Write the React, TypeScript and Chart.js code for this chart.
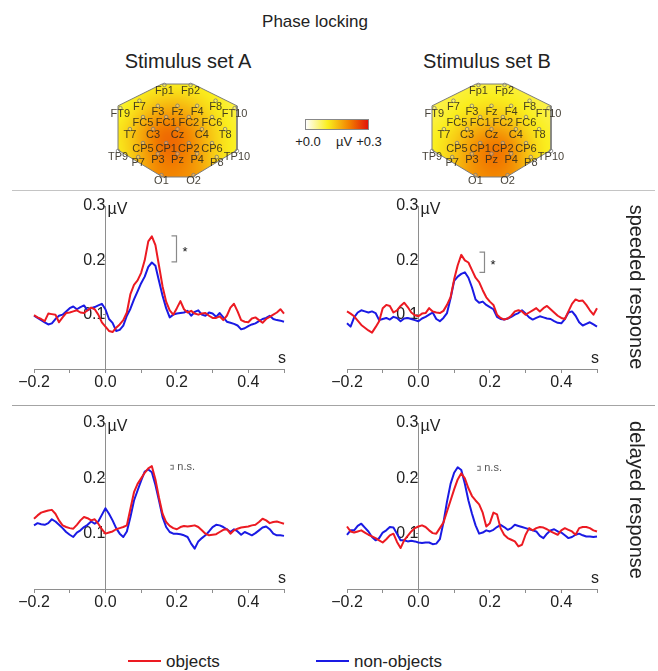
import React, { useEffect, useRef } from 'react';
import { Chart, registerables } from 'chart.js';
Chart.register(...registerables);

// ---------- time axis (s) ----------
const TIME = [-0.2,-0.19,-0.18,-0.17,-0.16,-0.15,-0.14,-0.13,-0.12,-0.11,-0.1,-0.09,-0.08,-0.07,-0.06,-0.05,-0.04,-0.03,-0.02,-0.01,0,0.01,0.02,0.03,0.04,0.05,0.06,0.07,0.08,0.09,0.1,0.11,0.12,0.13,0.14,0.15,0.16,0.17,0.18,0.19,0.2,0.21,0.22,0.23,0.24,0.25,0.26,0.27,0.28,0.29,0.3,0.31,0.32,0.33,0.34,0.35,0.36,0.37,0.38,0.39,0.4,0.41,0.42,0.43,0.44,0.45,0.46,0.47,0.48,0.49,0.5];

// ---------- series (µV) ----------
const SPEEDED_A_OBJECTS = [
  0.099,0.095,0.092,0.088,0.102,0.101,0.100,0.086,0.095,0.103,
  0.104,0.106,0.108,0.104,0.103,0.108,0.113,0.110,0.100,0.086,
  0.078,0.070,0.068,0.076,0.082,0.090,0.104,0.138,0.155,0.163,
  0.177,0.200,0.235,0.244,0.228,0.190,0.152,0.124,0.108,0.100,
  0.112,0.125,0.110,0.104,0.107,0.102,0.100,0.102,0.103,0.098,
  0.094,0.094,0.097,0.090,0.098,0.113,0.120,0.106,0.090,0.087,
  0.086,0.093,0.095,0.090,0.085,0.092,0.096,0.100,0.104,0.110,
  0.102];
const SPEEDED_A_NONOBJECTS = [
  0.098,0.094,0.090,0.086,0.082,0.084,0.092,0.098,0.100,0.106,
  0.112,0.115,0.110,0.114,0.117,0.108,0.112,0.114,0.117,0.120,
  0.110,0.092,0.085,0.070,0.072,0.080,0.098,0.111,0.128,0.143,
  0.158,0.170,0.188,0.196,0.190,0.162,0.135,0.112,0.095,0.100,
  0.102,0.103,0.104,0.107,0.098,0.105,0.108,0.100,0.098,0.104,
  0.102,0.096,0.103,0.095,0.087,0.085,0.083,0.080,0.073,0.075,
  0.079,0.082,0.084,0.088,0.092,0.094,0.098,0.092,0.090,0.089,
  0.087];
const SPEEDED_B_OBJECTS = [
  0.106,0.102,0.097,0.089,0.081,0.076,0.071,0.067,0.077,0.088,
  0.112,0.118,0.116,0.104,0.108,0.116,0.122,0.114,0.104,0.099,
  0.097,0.102,0.103,0.112,0.106,0.104,0.103,0.107,0.118,0.132,
  0.165,0.191,0.210,0.200,0.196,0.182,0.168,0.160,0.145,0.132,
  0.124,0.118,0.100,0.094,0.091,0.093,0.098,0.106,0.108,0.106,
  0.100,0.104,0.108,0.112,0.106,0.112,0.116,0.110,0.104,0.098,
  0.094,0.092,0.106,0.120,0.128,0.125,0.126,0.118,0.108,0.100,
  0.112];
const SPEEDED_B_NONOBJECTS = [
  0.084,0.078,0.095,0.104,0.108,0.106,0.104,0.106,0.103,0.090,
  0.092,0.094,0.091,0.096,0.094,0.088,0.093,0.094,0.092,0.090,
  0.088,0.093,0.096,0.100,0.104,0.092,0.088,0.094,0.103,0.130,
  0.162,0.170,0.175,0.178,0.168,0.150,0.128,0.122,0.124,0.118,
  0.114,0.110,0.096,0.092,0.091,0.093,0.096,0.100,0.103,0.108,
  0.102,0.095,0.091,0.094,0.097,0.095,0.093,0.092,0.088,0.085,
  0.084,0.092,0.104,0.106,0.098,0.086,0.080,0.083,0.086,0.082,
  0.078];
const DELAYED_A_OBJECTS = [
  0.127,0.133,0.138,0.140,0.142,0.143,0.136,0.124,0.115,0.112,
  0.110,0.109,0.116,0.124,0.130,0.128,0.124,0.126,0.118,0.108,
  0.100,0.102,0.104,0.108,0.110,0.112,0.115,0.145,0.175,0.190,
  0.200,0.210,0.218,0.222,0.198,0.165,0.136,0.121,0.114,0.110,
  0.108,0.112,0.114,0.113,0.114,0.115,0.112,0.106,0.100,0.097,
  0.098,0.099,0.103,0.107,0.108,0.100,0.106,0.109,0.111,0.112,
  0.113,0.115,0.116,0.121,0.127,0.124,0.119,0.121,0.122,0.120,
  0.118];
const DELAYED_A_NONOBJECTS = [
  0.115,0.119,0.117,0.116,0.119,0.126,0.122,0.116,0.110,0.103,
  0.098,0.094,0.102,0.106,0.112,0.116,0.122,0.118,0.122,0.134,
  0.146,0.136,0.124,0.110,0.100,0.094,0.104,0.130,0.160,0.178,
  0.196,0.212,0.216,0.211,0.188,0.160,0.130,0.112,0.103,0.100,
  0.100,0.099,0.097,0.094,0.082,0.073,0.086,0.092,0.097,0.104,
  0.112,0.116,0.115,0.112,0.108,0.103,0.108,0.104,0.098,0.103,
  0.100,0.097,0.101,0.106,0.111,0.113,0.108,0.100,0.097,0.097,
  0.096];
const DELAYED_B_OBJECTS = [
  0.113,0.104,0.102,0.104,0.106,0.102,0.098,0.095,0.092,0.088,
  0.084,0.090,0.097,0.100,0.085,0.074,0.088,0.096,0.104,0.110,
  0.113,0.115,0.112,0.106,0.101,0.100,0.110,0.120,0.140,0.160,
  0.180,0.198,0.209,0.200,0.182,0.168,0.160,0.153,0.138,0.113,
  0.119,0.138,0.135,0.110,0.098,0.092,0.089,0.086,0.077,0.080,
  0.098,0.110,0.106,0.110,0.112,0.111,0.108,0.104,0.101,0.098,
  0.106,0.110,0.107,0.104,0.098,0.110,0.112,0.112,0.110,0.106,
  0.104];
const DELAYED_B_NONOBJECTS = [
  0.098,0.106,0.106,0.114,0.118,0.111,0.104,0.094,0.088,0.092,
  0.102,0.106,0.112,0.111,0.100,0.088,0.088,0.086,0.087,0.086,
  0.084,0.083,0.084,0.084,0.081,0.082,0.090,0.120,0.158,0.190,
  0.210,0.220,0.215,0.190,0.160,0.136,0.115,0.100,0.102,0.106,
  0.104,0.107,0.112,0.116,0.112,0.107,0.110,0.116,0.114,0.112,
  0.110,0.108,0.106,0.104,0.096,0.092,0.100,0.106,0.108,0.104,
  0.102,0.097,0.092,0.094,0.098,0.100,0.097,0.095,0.095,0.094,
  0.095];

// ---------- ticks ----------
const X_TICK_VALUES = [-0.2, 0, 0.2, 0.4];
const X_TICK_LABELS = ['\u22120.2', '0.0', '0.2', '0.4'];
const Y_TICK_VALUES = [0.1, 0.2, 0.3];
const Y_TICK_LABELS = ['0.1', '0.2', '0.3'];

// ---------- significance marks [t, upper, lower] ----------
const SIG_SPEEDED_A = [0.199, 0.245, 0.197];
const SIG_SPEEDED_B = [0.185, 0.215, 0.178];
const NS_DELAYED_A = [0.19, 0.2235, 0.2165];
const NS_DELAYED_B = [0.173, 0.2215, 0.2145];

// ---------- topography ----------
const ELECTRODES = ['Fp1','Fp2','F7','F3','Fz','F4','F8','FT9','FC5','FC1','FC2','FC6','FT10','T7','C3','Cz','C4','T8','CP5','CP1','CP2','CP6','TP9','P7','P3','Pz','P4','P8','TP10','O1','O2'];
const ELECTRODE_X = [-0.22,0.22,-0.64,-0.33,0,0.33,0.64,-0.96,-0.58,-0.19,0.19,0.58,0.96,-0.8,-0.41,0,0.41,0.8,-0.58,-0.19,0.19,0.58,-1.0,-0.66,-0.33,0,0.33,0.66,1.0,-0.27,0.27];
const ELECTRODE_Y = [0.98,0.98,0.64,0.53,0.53,0.53,0.64,0.48,0.29,0.29,0.29,0.29,0.48,0.03,0.03,0.03,0.03,0.03,-0.27,-0.27,-0.27,-0.27,-0.44,-0.57,-0.5,-0.5,-0.5,-0.57,-0.44,-0.96,-0.96];
const TOPO_A_VALUES = [0.09,0.09,0.09,0.13,0.14,0.12,0.09,0.08,0.15,0.22,0.19,0.12,0.08,0.11,0.26,0.25,0.18,0.09,0.17,0.26,0.22,0.13,0.09,0.13,0.22,0.22,0.18,0.11,0.09,0.20,0.19];
const TOPO_B_VALUES = [0.085,0.085,0.085,0.10,0.11,0.10,0.085,0.08,0.10,0.13,0.14,0.10,0.08,0.09,0.17,0.20,0.16,0.09,0.15,0.22,0.25,0.14,0.09,0.12,0.20,0.24,0.22,0.11,0.09,0.19,0.19];
const OUTLINE_X = [-0.26,0.26,1,1,0.25,-0.25,-1,-1,-0.26];
const OUTLINE_Y = [1,1,0.53,-0.42,-1,-1,-0.42,0.53,1];

// ---------- colour scale (µV) ----------
const CMAP_MAX = 0.3;
const CMAP_STOPS = [0, 0.35, 0.7, 1];
const CMAP_COLORS = [[255,255,255],[250,238,30],[242,128,0],[225,20,10]];

const RED = 'rgb(236,26,34)';
const BLUE = 'rgb(26,26,228)';
const AXIS_COLOR = '#8e8e8e';
const TEXT_COLOR = '#222';
const FONT = '"Liberation Sans", Arial, Helvetica, sans-serif';
Chart.defaults.font.family = FONT;

function colorFor(v: number) {
  const t = Math.max(0, Math.min(1, v / CMAP_MAX));
  for (let i = 1; i < CMAP_STOPS.length; i++) {
    if (t <= CMAP_STOPS[i]) {
      const f = (t - CMAP_STOPS[i - 1]) / (CMAP_STOPS[i] - CMAP_STOPS[i - 1]);
      const a = CMAP_COLORS[i - 1], b = CMAP_COLORS[i];
      return [0, 1, 2].map(k => Math.round(a[k] + (b[k] - a[k]) * f));
    }
  }
  return CMAP_COLORS[CMAP_COLORS.length - 1];
}

function labelFor(v: number, values: number[], labels: string[]) {
  const i = values.findIndex(u => Math.abs(u - v) < 1e-6);
  return i >= 0 ? labels[i] : '';
}

const panelOverlay = {
  id: 'panelOverlay',
  afterDraw(chart: any, _args: any, opts: any) {
    const { ctx } = chart;
    const x = chart.scales.x, y = chart.scales.y;
    ctx.save();
    ctx.fillStyle = TEXT_COLOR;
    ctx.font = `16px ${FONT}`;
    ctx.textAlign = 'left';
    ctx.textBaseline = 'middle';
    ctx.fillText('\u00b5V', x.getPixelForValue(0) + 2, y.getPixelForValue(0.3) + 4);
    ctx.textAlign = 'center';
    ctx.textBaseline = 'bottom';
    ctx.fillText('s', x.getPixelForValue(0.5) - 2, y.getPixelForValue(0) - 2);
    const m = opts.mark;
    if (m) {
      const bx = x.getPixelForValue(m[0]);
      const y1 = y.getPixelForValue(m[1]);
      const y2 = y.getPixelForValue(m[2]);
      ctx.strokeStyle = '#8a8a8a';
      ctx.lineWidth = 1.2;
      ctx.beginPath();
      ctx.moveTo(bx - opts.arm, y1);
      ctx.lineTo(bx, y1);
      ctx.lineTo(bx, y2);
      ctx.lineTo(bx - opts.arm, y2);
      ctx.stroke();
      ctx.fillStyle = opts.textColor;
      ctx.font = `${opts.fontSize}px ${FONT}`;
      ctx.textAlign = 'left';
      ctx.textBaseline = 'middle';
      ctx.fillText(opts.text, bx + opts.gap, (y1 + y2) / 2 + opts.dy);
    }
    ctx.restore();
  },
};

function Panel(props: any) {
  const ref = useRef<HTMLCanvasElement | null>(null);
  useEffect(() => {
    const mk = (arr: number[]) => TIME.map((t, i) => ({ x: t, y: arr[i] }));
    const chart = new Chart(ref.current as HTMLCanvasElement, {
      type: 'line',
      data: {
        datasets: [
          { label: 'objects', data: mk(props.objects), borderColor: RED, borderWidth: 2, pointRadius: 0, tension: 0, clip: false, borderJoinStyle: 'round' },
          { label: 'non-objects', data: mk(props.nonObjects), borderColor: BLUE, borderWidth: 2, pointRadius: 0, tension: 0, clip: false, borderJoinStyle: 'round' },
        ],
      } as any,
      options: {
        animation: false,
        responsive: true,
        maintainAspectRatio: false,
        layout: { padding: props.pad },
        plugins: {
          legend: { display: false },
          tooltip: { enabled: false },
          panelOverlay: props.overlay,
        } as any,
        scales: {
          x: {
            type: 'linear', min: -0.2, max: 0.5, position: { y: 0 } as any,
            ticks: { stepSize: 0.1, autoSkip: false, maxRotation: 0, color: TEXT_COLOR, font: { size: 16 }, padding: 1,
              callback: (v: any) => labelFor(Number(v), X_TICK_VALUES, X_TICK_LABELS) },
            grid: { drawOnChartArea: false, drawTicks: true, tickLength: 3, color: AXIS_COLOR },
            border: { color: AXIS_COLOR, width: 1 },
          },
          y: {
            type: 'linear', min: 0, max: 0.3, position: { x: 0 } as any,
            ticks: { stepSize: 0.1, autoSkip: false, color: TEXT_COLOR, font: { size: 16 }, padding: 1,
              callback: (v: any) => labelFor(Number(v), Y_TICK_VALUES, Y_TICK_LABELS) },
            grid: { drawOnChartArea: false, drawTicks: true, tickLength: 2, color: AXIS_COLOR },
            border: { color: AXIS_COLOR, width: 1 },
          },
        } as any,
      },
      plugins: [panelOverlay],
    });
    return () => chart.destroy();
  }, []);
  return (
    <div style={{ position: 'absolute', left: props.left, top: props.top, width: props.width, height: props.height }}>
      <canvas ref={ref} />
    </div>
  );
}

const topoPlugin = {
  id: 'topoPlugin',
  beforeDatasetsDraw(chart: any, _args: any, opts: any) {
    const { ctx, chartArea } = chart;
    const x = chart.scales.x, y = chart.scales.y;
    const values: number[] = opts.values;
    const px = ELECTRODE_X.map(v => x.getPixelForValue(v));
    const py = ELECTRODE_Y.map(v => y.getPixelForValue(v));
    const x0 = Math.floor(chartArea.left) - 2, y0 = Math.floor(chartArea.top) - 2;
    const w = Math.ceil(chartArea.width) + 5, h = Math.ceil(chartArea.height) + 5;
    const off = document.createElement('canvas');
    off.width = w; off.height = h;
    const octx = off.getContext('2d') as CanvasRenderingContext2D;
    const img = octx.createImageData(w, h);
    const s2 = 2 * opts.sigma * opts.sigma;
    for (let j = 0; j < h; j++) {
      for (let i = 0; i < w; i++) {
        let sw = 0, sv = 0;
        for (let k = 0; k < values.length; k++) {
          const dx = x0 + i - px[k], dy = y0 + j - py[k];
          const wt = Math.exp(-(dx * dx + dy * dy) / s2);
          sw += wt; sv += wt * values[k];
        }
        const c = colorFor(sv / sw);
        const o = (j * w + i) * 4;
        img.data[o] = c[0]; img.data[o + 1] = c[1]; img.data[o + 2] = c[2]; img.data[o + 3] = 255;
      }
    }
    octx.putImageData(img, 0, 0);
    ctx.save();
    ctx.beginPath();
    OUTLINE_X.forEach((vx, i) => {
      const X = x.getPixelForValue(vx), Y = y.getPixelForValue(OUTLINE_Y[i]);
      if (i === 0) ctx.moveTo(X, Y); else ctx.lineTo(X, Y);
    });
    ctx.closePath();
    ctx.clip();
    ctx.drawImage(off, x0, y0);
    ctx.restore();
  },
  afterDatasetsDraw(chart: any) {
    const { ctx } = chart;
    const x = chart.scales.x, y = chart.scales.y;
    ctx.save();
    ctx.fillStyle = 'rgba(45,40,30,0.88)';
    ctx.font = `11px ${FONT}`;
    ctx.textAlign = 'center';
    ctx.textBaseline = 'middle';
    ELECTRODES.forEach((name, i) => {
      ctx.fillText(name, x.getPixelForValue(ELECTRODE_X[i]), y.getPixelForValue(ELECTRODE_Y[i]) + 6);
    });
    ctx.restore();
  },
};

function Topo(props: any) {
  const ref = useRef<HTMLCanvasElement | null>(null);
  useEffect(() => {
    const chart = new Chart(ref.current as HTMLCanvasElement, {
      type: 'scatter',
      data: {
        datasets: [
          { data: OUTLINE_X.map((v, i) => ({ x: v, y: OUTLINE_Y[i] })), showLine: true, borderColor: '#7c7c7c', borderWidth: 1, pointRadius: 0, clip: false, fill: false },
          { data: ELECTRODE_X.map((v, i) => ({ x: v, y: ELECTRODE_Y[i] })), pointRadius: 1.8, pointBackgroundColor: 'rgba(255,255,255,0.25)', pointBorderColor: '#7a7a7a', pointBorderWidth: 0.8, clip: false },
        ],
      } as any,
      options: {
        animation: false,
        responsive: true,
        maintainAspectRatio: false,
        layout: { padding: props.pad },
        plugins: { legend: { display: false }, tooltip: { enabled: false }, topoPlugin: { values: props.values, sigma: 14 } } as any,
        scales: {
          x: { type: 'linear', min: -1, max: 1, display: false },
          y: { type: 'linear', min: -1, max: 1, display: false },
        },
      },
      plugins: [topoPlugin],
    });
    return () => chart.destroy();
  }, []);
  return (
    <div style={{ position: 'absolute', left: props.left, top: props.top, width: props.width, height: props.height }}>
      <canvas ref={ref} />
    </div>
  );
}

function Text(props: any) {
  return (
    <div style={{ position: 'absolute', left: props.x, top: props.y, transform: `translate(-50%, -50%)${props.rotate ? ' rotate(90deg)' : ''}`,
      fontSize: props.size, color: props.color || TEXT_COLOR, whiteSpace: 'nowrap', lineHeight: 1 }}>
      {props.children}
    </div>
  );
}

export default function App() {
  const gradient = `linear-gradient(to right, ${CMAP_STOPS.map((s, i) => `rgb(${CMAP_COLORS[i].join(',')}) ${s * 100}%`).join(', ')})`;
  const starOverlay = (mark: number[]) => ({ mark, arm: 5, gap: 6, text: '*', fontSize: 13, textColor: '#111', dy: 3 });
  const nsOverlay = (mark: number[]) => ({ mark, arm: 3, gap: 4, text: 'n.s.', fontSize: 11, textColor: '#555', dy: 0 });
  const padTop = { left: 34, right: 38, top: 14, bottom: 33 };
  const padBottom = { left: 34, right: 38, top: 16, bottom: 28 };
  return (
    <div style={{ position: 'fixed', left: 0, top: 0, width: 658, height: 671, background: '#fff', fontFamily: FONT, overflow: 'hidden' }}>
      <Text x={315} y={21} size={17}>Phase locking</Text>
      <Text x={188} y={61} size={20}>Stimulus set A</Text>
      <Text x={487} y={61} size={20}>Stimulus set B</Text>

      <Topo left={95} top={72} width={165} height={120} pad={{ left: 23, right: 23, top: 12, bottom: 15 }} values={TOPO_A_VALUES} />
      <Topo left={409} top={72} width={165} height={120} pad={{ left: 23, right: 23, top: 12, bottom: 15 }} values={TOPO_B_VALUES} />

      <div style={{ position: 'absolute', left: 305, top: 119, width: 62, height: 9, border: '1px solid #888', background: gradient }} />
      <Text x={308} y={141} size={13}>+0.0</Text>
      <Text x={344} y={141} size={13}>{'\u00b5V'}</Text>
      <Text x={369} y={141} size={13}>+0.3</Text>

      <div style={{ position: 'absolute', left: 12, top: 190, width: 643, height: 1, background: '#c4c4c4' }} />
      <div style={{ position: 'absolute', left: 12, top: 405, width: 643, height: 1, background: '#a4a4a4' }} />

      <Panel left={0} top={192} width={322} height={210} pad={padTop} objects={SPEEDED_A_OBJECTS} nonObjects={SPEEDED_A_NONOBJECTS} overlay={starOverlay(SIG_SPEEDED_A)} />
      <Panel left={313} top={192} width={322} height={210} pad={padTop} objects={SPEEDED_B_OBJECTS} nonObjects={SPEEDED_B_NONOBJECTS} overlay={starOverlay(SIG_SPEEDED_B)} />
      <Panel left={0} top={407} width={322} height={210} pad={padBottom} objects={DELAYED_A_OBJECTS} nonObjects={DELAYED_A_NONOBJECTS} overlay={nsOverlay(NS_DELAYED_A)} />
      <Panel left={313} top={407} width={322} height={210} pad={padBottom} objects={DELAYED_B_OBJECTS} nonObjects={DELAYED_B_NONOBJECTS} overlay={nsOverlay(NS_DELAYED_B)} />

      <Text x={637} y={287} size={20} rotate>speeded response</Text>
      <Text x={637} y={500} size={20} rotate>delayed response</Text>

      <div style={{ position: 'absolute', left: 128, top: 660, width: 33, height: 2, background: RED }} />
      <div style={{ position: 'absolute', left: 166, top: 661, transform: 'translateY(-50%)', fontSize: 17, color: TEXT_COLOR, lineHeight: 1 }}>objects</div>
      <div style={{ position: 'absolute', left: 316, top: 660, width: 33, height: 2, background: BLUE }} />
      <div style={{ position: 'absolute', left: 354, top: 661, transform: 'translateY(-50%)', fontSize: 17, color: TEXT_COLOR, lineHeight: 1 }}>non-objects</div>
    </div>
  );
}
